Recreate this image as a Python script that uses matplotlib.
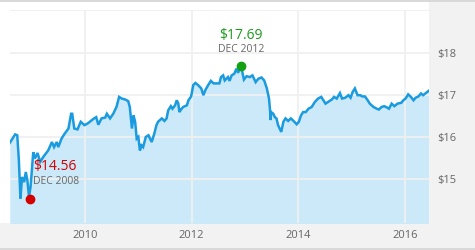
import matplotlib
matplotlib.use("Agg")
import matplotlib.pyplot as plt
from matplotlib.patches import Rectangle

plt.rcParams["font.family"] = ["Open Sans", "DejaVu Sans"]

# price history (decimal year, value in $)
years = [
    2008.59, 2008.69, 2008.73, 2008.76, 2008.79, 2008.82, 2008.86, 2008.89, 2008.92, 2008.95,
    2008.98, 2009.03, 2009.06, 2009.11, 2009.16, 2009.22, 2009.31, 2009.38, 2009.42, 2009.47,
    2009.50, 2009.56, 2009.62, 2009.69, 2009.74, 2009.76, 2009.80, 2009.86, 2009.92, 2009.99,
    2010.05, 2010.11, 2010.17, 2010.21, 2010.25, 2010.31, 2010.38, 2010.41, 2010.47, 2010.53,
    2010.59, 2010.64, 2010.69, 2010.75, 2010.81, 2010.84, 2010.88, 2010.91, 2010.94, 2010.97,
    2011.00, 2011.03, 2011.06, 2011.09, 2011.14, 2011.19, 2011.25, 2011.30, 2011.34, 2011.37,
    2011.44, 2011.49, 2011.53, 2011.56, 2011.61, 2011.64, 2011.69, 2011.72, 2011.75, 2011.77,
    2011.80, 2011.84, 2011.91, 2011.94, 2011.99, 2012.03, 2012.07, 2012.12, 2012.18, 2012.22,
    2012.26, 2012.31, 2012.36, 2012.41, 2012.47, 2012.52, 2012.55, 2012.59, 2012.62, 2012.68,
    2012.71, 2012.75, 2012.80, 2012.84, 2012.87, 2012.92, 2012.95, 2012.98, 2013.03, 2013.09,
    2013.14, 2013.20, 2013.25, 2013.31, 2013.36, 2013.41, 2013.45, 2013.47, 2013.48, 2013.49,
    2013.53, 2013.56, 2013.59, 2013.62, 2013.68, 2013.72, 2013.76, 2013.81, 2013.86, 2013.91,
    2013.97, 2014.01, 2014.05, 2014.09, 2014.14, 2014.19, 2014.25, 2014.31, 2014.37, 2014.43,
    2014.47, 2014.51, 2014.58, 2014.63, 2014.67, 2014.72, 2014.78, 2014.82, 2014.88, 2014.94,
    2014.98, 2015.02, 2015.06, 2015.11, 2015.16, 2015.20, 2015.25, 2015.30, 2015.34, 2015.41,
    2015.47, 2015.51, 2015.56, 2015.61, 2015.66, 2015.70, 2015.75, 2015.80, 2015.86, 2015.93,
    2015.97, 2016.01, 2016.06, 2016.11, 2016.16, 2016.20, 2016.25, 2016.30, 2016.34, 2016.39,
    2016.44,
]
prices = [
    15.86, 16.06, 16.04, 15.45, 14.54, 15.05, 14.93, 15.17, 14.97, 14.58,
    14.82, 15.64, 15.49, 15.62, 15.41, 15.53, 15.68, 15.88, 15.76, 15.88,
    15.76, 15.96, 16.08, 16.20, 16.55, 16.55, 16.20, 16.18, 16.36, 16.28,
    16.32, 16.38, 16.44, 16.47, 16.29, 16.44, 16.46, 16.55, 16.44, 16.55,
    16.71, 16.95, 16.91, 16.89, 16.85, 16.71, 16.20, 16.51, 16.36, 15.96,
    16.00, 15.68, 15.80, 15.76, 16.00, 16.04, 15.88, 16.08, 16.28, 16.36,
    16.44, 16.38, 16.44, 16.63, 16.73, 16.67, 16.75, 16.87, 16.79, 16.59,
    16.65, 16.71, 16.75, 16.87, 16.96, 17.23, 17.28, 17.23, 17.15, 16.99,
    17.12, 17.23, 17.33, 17.27, 17.27, 17.27, 17.42, 17.46, 17.34, 17.42,
    17.33, 17.46, 17.50, 17.62, 17.52, 17.69, 17.54, 17.36, 17.44, 17.42,
    17.46, 17.30, 17.38, 17.41, 17.34, 17.15, 16.91, 16.63, 16.40, 16.59,
    16.55, 16.47, 16.44, 16.28, 16.12, 16.36, 16.44, 16.38, 16.44, 16.38,
    16.30, 16.36, 16.51, 16.59, 16.59, 16.67, 16.71, 16.83, 16.91, 16.95,
    16.87, 16.79, 16.85, 16.89, 16.95, 16.91, 17.04, 16.91, 16.93, 16.99,
    16.93, 17.07, 17.15, 16.99, 16.99, 16.96, 16.96, 16.87, 16.79, 16.71,
    16.67, 16.65, 16.71, 16.73, 16.70, 16.67, 16.79, 16.73, 16.79, 16.81,
    16.87, 16.91, 17.01, 16.95, 16.87, 16.93, 16.96, 17.03, 16.99, 17.04,
    17.09,
]

# low / high callouts
low_year, low_price, low_label = 2008.96, 14.54, "DEC 2008"
high_year, high_price, high_label = 2012.92, 17.69, "DEC 2012"
low_text = "$14.56"
high_text = "$17.69"

x_ticks = [2010, 2012, 2014, 2016]
y_ticks = [15, 16, 17, 18]
y_grid = [15, 16, 17, 18, 19]

W, H = 475, 250
fig = plt.figure(figsize=(4.75, 2.5), dpi=100, facecolor="#f2f2f2")

# white canvas behind the plot, dark strips top and bottom
fig.patches.append(Rectangle((0, 27 / H), 429 / W, 221 / H, transform=fig.transFigure,
                             facecolor="white", edgecolor="none", zorder=-2))
fig.patches.append(Rectangle((0, 248 / H), 1, 2 / H, transform=fig.transFigure,
                             facecolor="#d9d9d9", edgecolor="none", zorder=-1))
fig.patches.append(Rectangle((0, 0), 1, 2.5 / H, transform=fig.transFigure,
                             facecolor="#d9d9d9", edgecolor="none", zorder=-1))

ax = fig.add_axes([10 / W, 27 / H, 419 / W, 213 / H])
ax.set_facecolor("none")

line_color = "#1a9be0"
fill_color = "#cbe9f8"

ax.fill_between(years, prices, 13.0, color=fill_color, lw=0, zorder=1)

# grid drawn over the fill
for yv in y_grid:
    ax.axhline(yv, color="#f0f0f0", lw=1.3, zorder=2)
for xv in x_ticks:
    ax.axvline(xv, color="#f0f0f0", lw=1.3, zorder=2)

ax.plot(years, prices, color=line_color, lw=1.8, zorder=3, solid_joinstyle="miter")

ax.plot([high_year], [high_price], "o", color="#13a013", ms=6, zorder=4)
ax.plot([low_year], [low_price], "o", color="#d40000", ms=6, zorder=4)

ax.annotate(high_text, (high_year, high_price), xytext=(0, 22), textcoords="offset points",
            ha="center", va="center", color="#1c9a1c", fontsize=10)
ax.annotate(high_label, (high_year, high_price), xytext=(0, 12), textcoords="offset points",
            ha="center", va="center", color="#666666", fontsize=7.5)
ax.annotate(low_text, (low_year, low_price), xytext=(2.5, 23), textcoords="offset points",
            ha="left", va="center", color="#d40000", fontsize=10)
ax.annotate(low_label, (low_year, low_price), xytext=(2.5, 12), textcoords="offset points",
            ha="left", va="center", color="#666666", fontsize=7.5)

ax.set_xlim(2008.594, 2016.45)
ax.set_ylim(13.96, 19.01)

ax.set_xticks(x_ticks)
ax.set_xticklabels([str(x) for x in x_ticks])
ax.set_yticks(y_ticks)
ax.set_yticklabels([f"${y}" for y in y_ticks])
ax.yaxis.tick_right()
ax.tick_params(axis="both", length=0, labelsize=8, labelcolor="#666666")
ax.tick_params(axis="y", pad=6)
ax.tick_params(axis="x", pad=5)
for s in ax.spines.values():
    s.set_visible(False)

fig.savefig("out.png", dpi=100, facecolor=fig.get_facecolor())
